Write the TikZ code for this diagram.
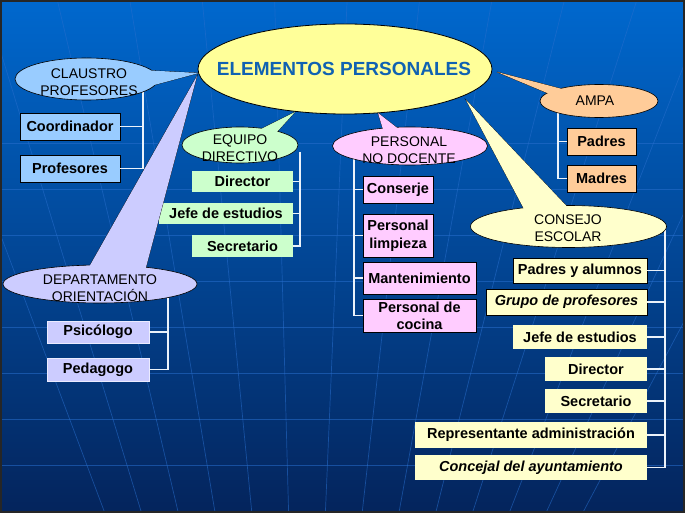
\documentclass[tikz,border=0pt]{standalone}
\usepackage{fontspec}
\setmainfont{Liberation Sans}
\usetikzlibrary{shapes.geometric}
\definecolor{bgtop}{RGB}{0,104,206}
\definecolor{bgbot}{RGB}{4,36,92}
\definecolor{gridc}{RGB}{40,110,205}
\definecolor{cblue}{RGB}{153,204,255}
\definecolor{cgreen}{RGB}{204,255,204}
\definecolor{cpink}{RGB}{255,204,255}
\definecolor{cpeach}{RGB}{255,204,153}
\definecolor{cyell}{RGB}{255,255,204}
\definecolor{cmain}{RGB}{255,255,153}
\definecolor{clav}{RGB}{204,204,255}
\definecolor{ctitle}{RGB}{16,98,178}
\definecolor{cline}{RGB}{235,242,250}
\tikzset{
  boxn/.style={rectangle, inner sep=0pt, align=center, text=black,
    font=\fontsize{14.5}{18}\selectfont\bfseries},
  bboxn/.style={boxn, draw=black, line width=0.8pt},
  conn/.style={draw=cline, line width=1.6pt},
  ell/.style={ellipse, draw=black, line width=0.6pt, inner sep=0pt},
  etext/.style={align=center, text=black, font=\fontsize{14}{17}\selectfont},
  gridl/.style={draw=gridc, line width=0.7pt, opacity=0.55},
  tailout/.style={draw=black, line width=0.6pt}
}
\begin{document}
\begin{tikzpicture}[x=1pt,y=-1pt]
\useasboundingbox (0,0) rectangle (685,513);
\shade[top color=bgtop, bottom color=bgbot] (0,0) rectangle (685,513);
% faint background grid
\begin{scope}
\clip (0,0) rectangle (685,513);
\foreach \yy in {143,189,235,281,327,373,419,465}
  \draw[gridl] (0,\yy) -- (685,\yy);
\foreach \k in {0,...,13}
  \draw[gridl] ({303+(55+46*\k-303)*1.575},0) -- ({303+(55+46*\k-303)*0.799},513);
\end{scope}
\draw[line width=2pt, draw=black!85] (1,1) rectangle (684,512);

% ---------- boxes ----------
\node[bboxn, fill=cblue, minimum width=100, minimum height=27] (coord) at (70,126.5) {Coordinador};
\node[bboxn, fill=cblue, minimum width=100, minimum height=27] (prof) at (70,168.5) {Profesores};

\node[boxn, fill=cgreen, minimum width=101, minimum height=21] (dir1) at (242.5,181.5) {Director};
\node[boxn, fill=cgreen, minimum width=134, minimum height=21] (jefe1) at (226,213.5) {Jefe de estudios};
\node[boxn, fill=cgreen, minimum width=101, minimum height=22] (sec1) at (242.5,246) {Secretario};

\node[bboxn, fill=cpink, minimum width=70, minimum height=27] (cons) at (398,189.5) {Conserje};
\node[bboxn, fill=cpink, minimum width=70, minimum height=43] (limp) at (398,235.5) {Personal\\limpieza};
\node[bboxn, fill=cpink, minimum width=113, minimum height=32] (mant) at (419.5,278) {Mantenimiento};
\node[bboxn, fill=cpink, minimum width=113, minimum height=33, font=\fontsize{14.5}{17}\selectfont\bfseries] (coc) at (419.5,315.5) {Personal de\\cocina};

\node[bboxn, fill=cpeach, minimum width=69, minimum height=27] (padres) at (601.5,141.5) {Padres};
\node[bboxn, fill=cpeach, minimum width=69, minimum height=27] (madres) at (601.5,178.5) {Madres};

\node[bboxn, fill=cyell, minimum width=134, minimum height=25] (pya) at (580,270.5) {Padres y alumnos};
\node[bboxn, fill=cyell, minimum width=161, minimum height=26, font=\fontsize{14.5}{18}\selectfont\bfseries\itshape] (grupo) at (566.5,302) {Grupo de profesores};
\node[boxn, fill=cyell, minimum width=134, minimum height=24] (jefe2) at (580,337) {Jefe de estudios};
\node[boxn, fill=cyell, minimum width=102, minimum height=24] (dir2) at (596,369) {Director};
\node[boxn, fill=cyell, minimum width=102, minimum height=24] (sec2) at (596,401) {Secretario};
\node[boxn, fill=cyell, minimum width=232, minimum height=26] (rep) at (531,435) {Representante administración};
\node[boxn, fill=cyell, minimum width=232, minimum height=25, font=\fontsize{14.5}{18}\selectfont\bfseries\itshape] (conc) at (531,467.5) {Concejal del ayuntamiento};

\node[boxn, fill=clav, draw=white!60!clav, line width=0.6pt, minimum width=102, minimum height=22] (psi) at (98,332) {Psicólogo};
\node[boxn, fill=clav, draw=white!60!clav, line width=0.6pt, minimum width=102, minimum height=23] (ped) at (98,369.5) {Pedagogo};

% ---------- connectors ----------
\coordinate (tc) at (143,92);
\draw[conn] (tc) |- (prof.east);
\draw[conn] (coord.east) -- (coord.east -| tc);

\coordinate (te) at (300,152);
\draw[conn] (te) |- (sec1.east);
\draw[conn] (dir1.east) -- (dir1.east -| te);
\draw[conn] (jefe1.east) -- (jefe1.east -| te);

\coordinate (tp) at (354,155);
\draw[conn] (tp) |- (coc.west);
\draw[conn] (cons.west) -- (cons.west -| tp);
\draw[conn] (limp.west) -- (limp.west -| tp);
\draw[conn] (mant.west) -- (mant.west -| tp);

\coordinate (ta) at (558,110);
\draw[conn] (ta) |- (madres.west);
\draw[conn] (padres.west) -- (padres.west -| ta);

\coordinate (tk) at (665,226);
\draw[conn] (tk) |- (conc.east);
\foreach \n in {pya,grupo,jefe2,dir2,sec2,rep}
  \draw[conn] (\n.east) -- (\n.east -| tk);

\coordinate (td) at (168,292);
\draw[conn] (td) |- (ped.east);
\draw[conn] (psi.east) -- (psi.east -| td);

% ---------- callouts ----------
% CLAUSTRO
\fill[cblue, tailout] (199,73) -- (140,70) -- (143,88) -- cycle;
\node[ell, fill=cblue, minimum width=143, minimum height=42] (claustro) at (86.5,79) {};
\fill[cblue] (199,73) -- (140,70) -- (143,88) -- cycle;
\node[etext] (claustro-t) at (89,82) {CLAUSTRO\\PROFESORES};

% EQUIPO DIRECTIVO
\fill[cgreen, tailout] (295,112) -- (255,132) -- (275,134) -- cycle;
\node[ell, fill=cgreen, minimum width=116, minimum height=36] (equipo) at (240,145) {};
\fill[cgreen] (295,112) -- (255,132) -- (275,134) -- cycle;
\node[etext] (equipo-t) at (240,148.5) {EQUIPO\\DIRECTIVO};

% PERSONAL NO DOCENTE
\fill[cpink, tailout] (378,113) -- (385,136) -- (405,134) -- cycle;
\node[ell, fill=cpink, minimum width=155, minimum height=38] (pnd) at (410,146) {};
\fill[cpink] (378,113) -- (385,136) -- (405,134) -- cycle;
\node[etext] (pnd-t) at (409,150) {PERSONAL\\NO DOCENTE};

% AMPA
\fill[cpeach, tailout] (497,72) -- (552,95) -- (566,90) -- cycle;
\node[ell, fill=cpeach, minimum width=118, minimum height=33] (ampa) at (599,101) {};
\fill[cpeach] (497,72) -- (552,95) -- (566,90) -- cycle;
\node[etext] (ampa-t) at (595,101) {AMPA};

% CONSEJO ESCOLAR
\fill[cyell, tailout] (466,100) -- (532,224) -- (575,215) -- cycle;
\node[ell, fill=cyell, minimum width=196, minimum height=42] (consejo) at (568.5,226.5) {};
\fill[cyell] (466,100) -- (532,224) -- (575,215) -- cycle;
\node[etext] (consejo-t) at (568,228.5) {CONSEJO\\ESCOLAR};

% DEPARTAMENTO ORIENTACION
\fill[clav, tailout] (197,76) -- (84,276) -- (145,271) -- cycle;
\node[ell, fill=clav, minimum width=194, minimum height=38] (dept) at (100,284) {};
\fill[clav] (197,76) -- (84,276) -- (145,271) -- cycle;
\node[etext] (dept-t) at (100,288.5) {DEPARTAMENTO\\ORIENTACIÓN};

% ---------- main ellipse ----------
\node[ell, fill=cmain, line width=0.8pt, minimum width=294, minimum height=90] (main) at (345,69) {};
\node[text=ctitle, font=\fontsize{19}{22}\selectfont\bfseries] (main-t) at (344,69) {ELEMENTOS PERSONALES};
\end{tikzpicture}
\end{document}
